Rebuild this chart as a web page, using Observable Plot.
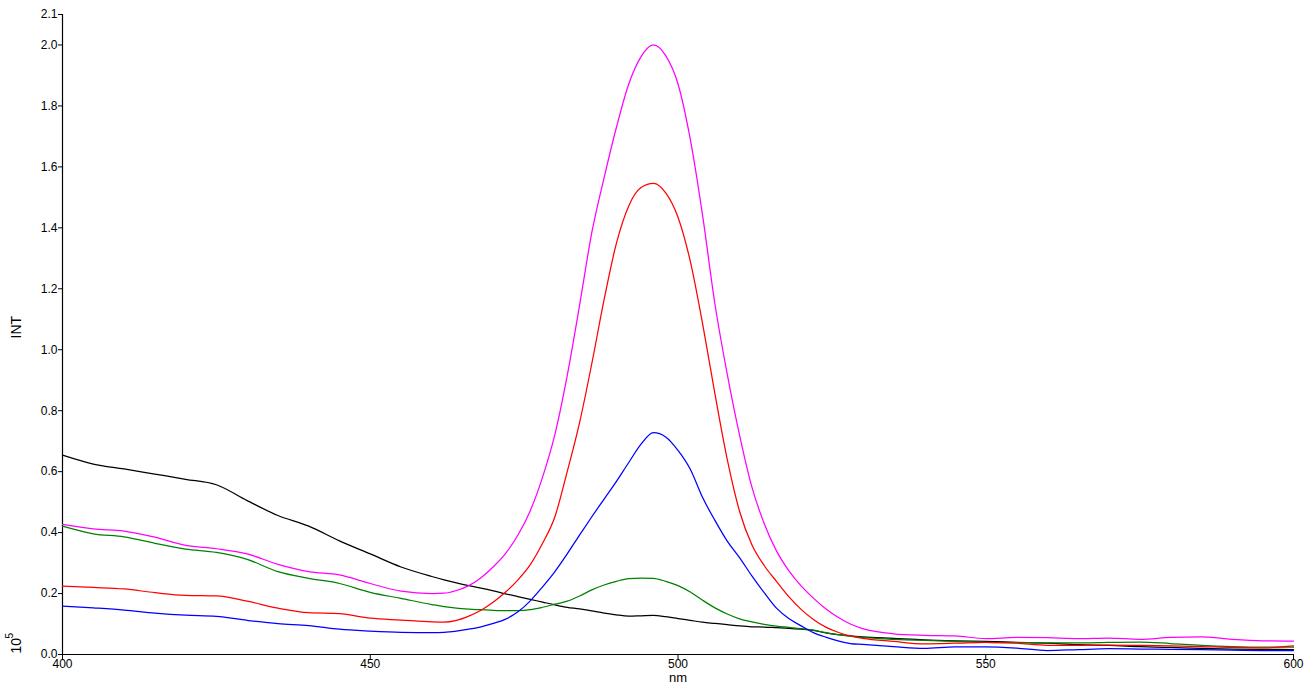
<!DOCTYPE html>
<html>
<head>
<meta charset="utf-8">
<script src="https://cdn.jsdelivr.net/npm/d3@7"></script>
<script src="https://cdn.jsdelivr.net/npm/@observablehq/plot@0.6"></script>
<style>
  html, body { margin: 0; padding: 0; background: #fff; }
  #chart svg { display: block; }
</style>
</head>
<body>
<div id="chart"></div>
<script>
// Wavelength grid (nm)
const wavelengths = [400,405,410,415,420,425,430,435,440,445,450,455,460,
  462,464,466,468,470,472,474,476,478,480,482,484,486,488,490,492,494,496,498,500,
  502,504,506,508,510,512,514,516,518,520,522,524,526,528,530,
  535,540,545,550,555,560,565,570,575,580,585,590,595,600];

// Intensity (×10^5) per series
const blackValues = [0.654,0.625,0.609,0.592,0.575,0.557,0.505,0.456,0.421,0.373,0.330,0.287,0.256,
  0.245,0.235,0.226,0.218,0.209,0.199,0.190,0.181,0.172,0.163,0.155,0.150,0.143,0.136,0.130,0.126,0.127,0.128,0.124,0.118,
  0.112,0.106,0.102,0.098,0.094,0.091,0.090,0.088,0.086,0.083,0.079,0.071,0.065,0.061,0.058,
  0.053,0.048,0.045,0.043,0.040,0.037,0.032,0.030,0.026,0.023,0.020,0.018,0.017,0.016];

const blueValues = [0.159,0.153,0.146,0.136,0.129,0.125,0.112,0.101,0.095,0.083,0.077,0.073,0.072,
  0.073,0.077,0.083,0.091,0.102,0.116,0.140,0.176,0.222,0.272,0.330,0.392,0.452,0.510,0.568,0.630,0.690,0.728,0.714,0.670,
  0.608,0.515,0.440,0.372,0.318,0.258,0.203,0.152,0.118,0.094,0.072,0.057,0.045,0.036,0.033,
  0.026,0.020,0.025,0.025,0.021,0.013,0.016,0.019,0.018,0.017,0.016,0.014,0.013,0.013];

const redValues = [0.224,0.220,0.215,0.203,0.194,0.192,0.175,0.152,0.137,0.134,0.119,0.113,0.107,
  0.106,0.112,0.126,0.145,0.172,0.205,0.245,0.295,0.365,0.452,0.600,0.760,0.955,1.165,1.350,1.472,1.532,1.546,1.515,1.435,
  1.290,1.085,0.855,0.640,0.470,0.360,0.292,0.240,0.190,0.148,0.115,0.090,0.073,0.061,0.053,
  0.043,0.035,0.037,0.040,0.037,0.030,0.030,0.031,0.030,0.028,0.026,0.023,0.022,0.028];

const magentaValues = [0.427,0.412,0.405,0.385,0.358,0.347,0.330,0.296,0.272,0.261,0.233,0.208,0.200,
  0.201,0.210,0.226,0.252,0.288,0.332,0.392,0.472,0.582,0.722,0.915,1.145,1.385,1.565,1.730,1.872,1.962,2.000,1.965,1.872,
  1.690,1.440,1.150,0.920,0.720,0.550,0.430,0.340,0.275,0.225,0.185,0.150,0.122,0.100,0.085,
  0.068,0.063,0.061,0.052,0.056,0.055,0.052,0.054,0.050,0.056,0.058,0.050,0.045,0.044];

const greenValues = [0.421,0.396,0.386,0.365,0.346,0.335,0.312,0.272,0.250,0.233,0.204,0.184,0.164,
  0.157,0.152,0.149,0.147,0.145,0.144,0.144,0.147,0.155,0.165,0.175,0.192,0.212,0.228,0.240,0.249,0.251,0.250,0.240,0.226,
  0.205,0.178,0.153,0.133,0.117,0.107,0.099,0.093,0.089,0.085,0.080,0.072,0.065,0.060,0.056,
  0.050,0.046,0.043,0.040,0.039,0.038,0.038,0.040,0.041,0.036,0.030,0.026,0.024,0.024];

const seriesNames = ["black", "green", "red", "blue", "magenta"];
const seriesColors = ["#000000", "#008000", "#ff0000", "#0000ff", "#ff00ff"];
const seriesValues = [blackValues, greenValues, redValues, blueValues, magentaValues];

const xTicks = [400, 450, 500, 550, 600];
const yTicks = [0, 0.2, 0.4, 0.6, 0.8, 1.0, 1.2, 1.4, 1.6, 1.8, 2.0, 2.1];

const data = seriesNames.flatMap((name, s) =>
  wavelengths.map((nm, i) => ({series: name, nm, int: seriesValues[s][i]})));

const chart = Plot.plot({
  width: 1314,
  height: 686,
  marginLeft: 62,
  marginRight: 21,
  marginTop: 14,
  marginBottom: 32,
  style: {fontFamily: "'Liberation Sans', Arial, sans-serif", fontSize: "12px", color: "#000", background: "#fff"},
  x: {domain: [400, 600]},
  y: {domain: [0, 2.1]},
  color: {domain: seriesNames, range: seriesColors},
  marks: [
    Plot.axisX({ticks: xTicks, tickSize: 5, tickPadding: 0, tickFormat: d => String(d), label: null, fontSize: 12}),
    Plot.axisY({ticks: yTicks, tickSize: 4, tickPadding: 1, tickFormat: d => d.toFixed(1), label: null, fontSize: 12}),
    Plot.ruleX([400], {stroke: "#000", strokeWidth: 1.2}),
    Plot.ruleY([0], {stroke: "#000", strokeWidth: 1.2}),
    Plot.line(data, {x: "nm", y: "int", z: "series", stroke: "series", strokeWidth: 1.25, curve: "monotone-x"}),
    Plot.text(["nm"], {frameAnchor: "bottom", dy: 27, fontSize: 13}),
    Plot.text(["INT"], {frameAnchor: "left", dx: -46, dy: 4, rotate: -90, fontSize: 14}),
    Plot.text(["10"], {frameAnchor: "bottom-left", dx: -42, dy: -1, rotate: -90, textAnchor: "start", fontSize: 14}),
    Plot.text(["5"], {frameAnchor: "bottom-left", dx: -50, dy: -16, rotate: -90, textAnchor: "start", fontSize: 10})
  ]
});

document.getElementById("chart").appendChild(chart);
</script>
</body>
</html>
